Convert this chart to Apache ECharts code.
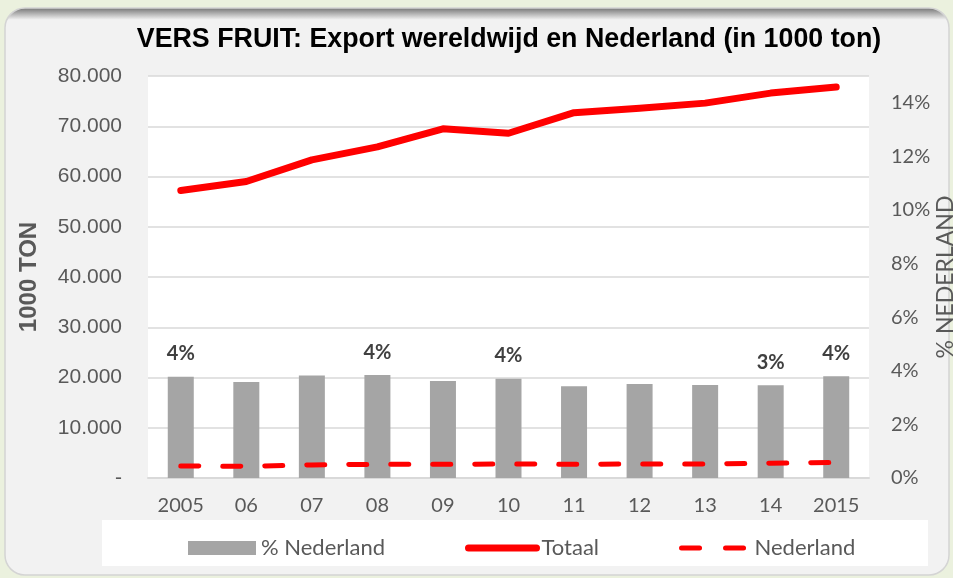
<!DOCTYPE html>
<html>
<head>
<meta charset="utf-8">
<script src="https://cdn.jsdelivr.net/npm/echarts@6/dist/echarts.min.js"></script>
<style>
  html, body { margin: 0; padding: 0; background: #ebf1de; }
  #main { width: 953px; height: 578px; }
</style>
</head>
<body>
<div id="main"></div>
<script>
// gegevens
var jaren = ['2005', '06', '07', '08', '09', '10', '11', '12', '13', '14', '2015'];
var totaal = [57.2, 59.0, 63.3, 65.9, 69.5, 68.6, 72.7, 73.6, 74.6, 76.6, 77.8];      // x 1000 ton
var nederland = [2.39, 2.32, 2.6, 2.72, 2.72, 2.79, 2.72, 2.79, 2.79, 2.92, 3.12]; // x 1000 ton
var pctNederland = [3.78, 3.58, 3.82, 3.84, 3.62, 3.70, 3.42, 3.51, 3.47, 3.46, 3.80]; // %
var metLabel = [0, 3, 5, 9, 10]; // jaren met een percentage-label

var calibri = 'Lato';
var arial = 'Liberation Sans, Arial';

function DrawChart() {
  var myChart = echarts.init(document.getElementById('main'));

  var option = {
    backgroundColor: '#ebf1de',
    animation: false,
    title: {
      text: 'VERS FRUIT: Export wereldwijd en Nederland (in 1000 ton)',
      left: 504,
      top: 21,
      textAlign: 'center',
      textStyle: { fontFamily: arial, fontWeight: 'bold', fontSize: 26.8, color: '#000' }
    },
    graphic: [
      { // paneel met schaduw bovenaan
        type: 'rect', z: -10,
        shape: { x: 5, y: 8, width: 944, height: 567, r: 20 },
        style: {
          fill: new echarts.graphic.LinearGradient(0, 0, 0, 1, [
            { offset: 0, color: '#6f6f6f' },
            { offset: 0.022, color: '#f2f2f2' },
            { offset: 1, color: '#f2f2f2' }
          ]),
          stroke: '#d4d4d4', lineWidth: 1.5
        }
      },
      { // wit vak achter de legenda
        type: 'rect', z: -5,
        shape: { x: 102, y: 520, width: 826, height: 46 },
        style: { fill: '#ffffff' }
      }
    ],
    grid: {
      left: 148, right: 84, top: 76, bottom: 100,
      outerBoundsMode: 'none',
      show: true, backgroundColor: '#ffffff', borderWidth: 0
    },
    legend: {
      left: 183, top: 532,
      itemWidth: 68, itemHeight: 14, itemGap: 80,
      textStyle: { fontFamily: calibri, fontSize: 22, color: '#595959' },
      data: [
        { name: '% Nederland', icon: 'rect' },
        { name: 'Totaal', itemStyle: { opacity: 0 },
          lineStyle: { width: 7, cap: 'round', color: '#ff0000' } },
        { name: 'Nederland', itemStyle: { opacity: 0 },
          lineStyle: { width: 5, type: [18, 26], cap: 'round', color: '#ff0000' } }
      ]
    },
    xAxis: {
      type: 'category',
      data: jaren,
      axisTick: { show: false },
      axisLine: { lineStyle: { color: '#d9d9d9', width: 2 } },
      axisLabel: { margin: 18, fontFamily: calibri, fontSize: 20, color: '#595959' }
    },
    yAxis: [
      {
        type: 'value', min: 0, max: 80, interval: 10,
        name: '1000 TON', nameLocation: 'middle', nameRotate: 90, nameGap: 107,
        nameMoveOverlap: false,
        nameTextStyle: { fontFamily: arial, fontWeight: 'bold', fontSize: 24, color: '#595959' },
        axisLabel: {
          margin: 26, fontFamily: arial, fontSize: 21, color: '#595959',
          formatter: function (v) { return v === 0 ? '-' : v + '.000'; }
        },
        splitLine: { lineStyle: { color: '#d9d9d9', width: 1.5 } }
      },
      {
        type: 'value', min: 0, max: 15, interval: 2,
        name: '% NEDERLAND', nameLocation: 'middle', nameRotate: 90, nameGap: 65,
        nameMoveOverlap: false,
        nameTextStyle: { fontFamily: calibri, fontSize: 23, color: '#595959' },
        axisLabel: {
          margin: 22, fontFamily: calibri, fontSize: 20, color: '#595959',
          showMaxLabel: false,
          formatter: function (v) { return v + '%'; }
        },
        splitLine: { show: false }
      }
    ],
    series: [
      {
        name: '% Nederland', type: 'bar', yAxisIndex: 1,
        barWidth: 26, z: 1,
        itemStyle: { color: '#a5a5a5' },
        data: pctNederland.map(function (v, i) {
          return {
            value: v,
            label: { show: metLabel.indexOf(i) >= 0 }
          };
        }),
        label: {
          position: 'top', distance: 13,
          fontFamily: calibri, fontWeight: 'bold', fontSize: 20, color: '#404040',
          formatter: function (p) { return Math.round(p.value) + '%'; }
        }
      },
      {
        name: 'Totaal', type: 'line', yAxisIndex: 0,
        data: totaal, symbol: 'none', z: 3,
        lineStyle: { color: '#ff0000', width: 7, cap: 'round', join: 'round' },
        itemStyle: { color: '#ff0000' }
      },
      {
        name: 'Nederland', type: 'line', yAxisIndex: 0,
        data: nederland, symbol: 'none', z: 3,
        lineStyle: { color: '#ff0000', width: 5, type: [18, 24], cap: 'round' },
        itemStyle: { color: '#ff0000' }
      }
    ]
  };

  myChart.setOption(option, true);
}

DrawChart();
</script>
</body>
</html>
